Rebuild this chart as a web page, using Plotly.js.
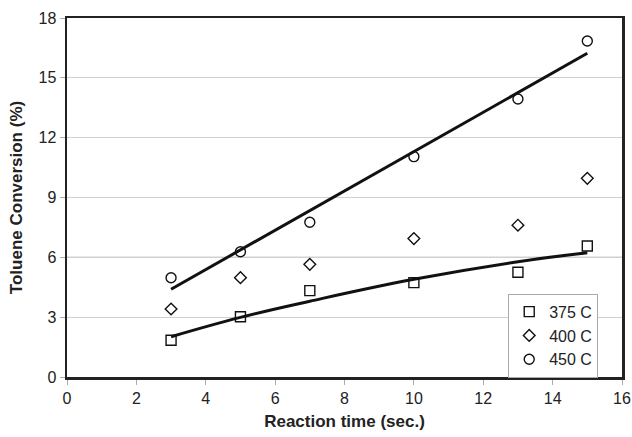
<!DOCTYPE html>
<html>
<head>
<meta charset="utf-8">
<script src="https://cdn.plot.ly/plotly-3.0.1.min.js"></script>
<style>html,body{margin:0;padding:0;background:#fff;}#chart{width:632px;height:437px;}</style>
</head>
<body>
<div id="chart"></div>
<script>
// Data
const reactionTime = [3, 5, 7, 10, 13, 15];
const conv375 = [1.84, 3.02, 4.33, 4.73, 5.25, 6.57];
const conv400 = [3.41, 4.98, 5.65, 6.94, 7.61, 9.96];
const conv450 = [4.98, 6.28, 7.76, 11.05, 13.94, 16.85];
// Trend lines as drawn in the reference
const trend375 = [2.02, 2.99, 3.80, 4.90, 5.78, 6.23];
const trendX450 = [3, 15];
const trend450 = [4.40, 16.23];
const seriesNames = ['375 C', '400 C', '450 C'];
const xTicks = [0, 2, 4, 6, 8, 10, 12, 14, 16];
const yTicks = [0, 3, 6, 9, 12, 15, 18];
const darkGridY = [6];

const font = 'Liberation Sans, Arial, sans-serif';
const mk = (sym, size) => ({symbol: sym, size: size, color: '#111', line: {color: '#111', width: 1.4}});

const traces = [
  {x: reactionTime, y: trend375, mode: 'lines', line: {color: '#111', width: 3, shape: 'spline', smoothing: 1.2}, showlegend: false, hoverinfo: 'skip'},
  {x: trendX450, y: trend450, mode: 'lines', line: {color: '#111', width: 3}, showlegend: false, hoverinfo: 'skip'},
  {x: reactionTime, y: conv375, mode: 'markers', name: seriesNames[0], marker: mk('square-open', 10)},
  {x: reactionTime, y: conv400, mode: 'markers', name: seriesNames[1], marker: mk('diamond-open', 9)},
  {x: reactionTime, y: conv450, mode: 'markers', name: seriesNames[2], marker: mk('circle-open', 10)}
];

const layout = {
  width: 632, height: 437,
  margin: {l: 67, r: 10, t: 18, b: 60},
  paper_bgcolor: '#fff', plot_bgcolor: '#fff',
  font: {family: font, color: '#222', size: 16},
  showlegend: true,
  legend: {x: 0.795, y: 0.232, xanchor: 'left', yanchor: 'top', bordercolor: '#aaa', borderwidth: 1,
           bgcolor: '#fff', font: {family: font, size: 16, color: '#222'}, tracegroupgap: 0, itemwidth: 30},
  xaxis: {
    range: [0, 16], tickvals: xTicks, ticktext: xTicks.map(String),
    showgrid: false, zeroline: false,
    showline: true, linecolor: '#222', linewidth: 2.5, mirror: true,
    ticks: 'outside', ticklen: 5, tickcolor: '#aaa', tickwidth: 1,
    tickfont: {family: font, size: 16, color: '#222'},
    title: {text: '<b>Reaction time (sec.)</b>', font: {family: font, size: 17, color: '#222'}, standoff: 10}
  },
  yaxis: {
    range: [0, 18], tickvals: yTicks, ticktext: yTicks.map(String),
    showgrid: true, gridcolor: '#d0d0d0', gridwidth: 1, zeroline: false,
    showline: true, linecolor: '#222', linewidth: 2.5, mirror: true,
    ticks: 'outside', ticklen: 5, tickcolor: '#aaa', tickwidth: 1,
    tickfont: {family: font, size: 16, color: '#222'},
    title: {text: '<b>Toluene Conversion (%)</b>', font: {family: font, size: 17, color: '#222'}, standoff: 12}
  },
  shapes: darkGridY.map(v => ({type: 'line', xref: 'paper', yref: 'y', x0: 0, x1: 1, y0: v, y1: v,
                              line: {color: '#777', width: 1}, layer: 'below'}))
};

Plotly.newPlot('chart', traces, layout, {displayModeBar: false, staticPlot: true});
</script>
</body>
</html>
